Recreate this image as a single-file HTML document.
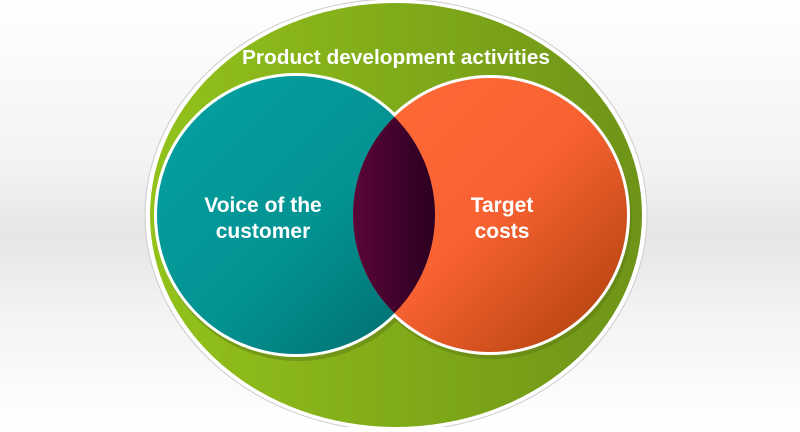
<!DOCTYPE html>
<html><head><meta charset="utf-8"><style>
html,body{margin:0;padding:0;}
body{width:800px;height:427px;overflow:hidden;background:linear-gradient(#fff 0%,#f2f2f2 40%,#e6e6e6 55%,#f4f4f4 75%,#fff 100%);}
</style></head><body>
<svg width="800" height="427" viewBox="0 0 800 427" xmlns="http://www.w3.org/2000/svg">
<defs>
<linearGradient id="g" x1="0" y1="0" x2="1" y2="0"><stop offset="0" stop-color="#93c21a"/><stop offset="1" stop-color="#6e9418"/></linearGradient>
<linearGradient id="t" x1="0" y1="0" x2="1" y2="1"><stop offset="0" stop-color="#05a2a2"/><stop offset="0.55" stop-color="#039292"/><stop offset="1" stop-color="#02686a"/></linearGradient>
<linearGradient id="o" x1="0" y1="0" x2="1" y2="1"><stop offset="0" stop-color="#ff6a38"/><stop offset="0.5" stop-color="#f86232"/><stop offset="1" stop-color="#a83e08"/></linearGradient>
<linearGradient id="p" gradientUnits="userSpaceOnUse" x1="353" y1="0" x2="437" y2="0"><stop offset="0" stop-color="#5a0638"/><stop offset="1" stop-color="#2a0020"/></linearGradient>
<clipPath id="lc"><circle cx="296" cy="215" r="139"/></clipPath>
</defs>
<ellipse cx="396" cy="215" rx="251" ry="216" fill="#fff" stroke="#ccc" stroke-width="1"/>
<ellipse cx="396" cy="215" rx="246" ry="212" fill="url(#g)"/>
<circle cx="298" cy="219" r="142" fill="#5d7c12" opacity="0.5"/>
<circle cx="492" cy="219" r="140" fill="#5d7c12" opacity="0.5"/>
<circle cx="296" cy="215" r="142" fill="#fff"/>
<circle cx="490" cy="215" r="140" fill="#fff"/>
<circle cx="296" cy="215" r="139" fill="url(#t)"/>
<circle cx="490" cy="215" r="137" fill="url(#o)"/>
<circle cx="490" cy="215" r="137" fill="url(#p)" clip-path="url(#lc)"/>
<g font-family="Liberation Sans, sans-serif" font-weight="bold" fill="#fff" text-anchor="middle">
<text x="396" y="64" font-size="20.5" textLength="308" lengthAdjust="spacingAndGlyphs">Product development activities</text>
<text x="263" y="212" font-size="21">Voice of the</text>
<text x="263" y="238" font-size="21">customer</text>
<text x="502" y="212" font-size="21">Target</text>
<text x="502" y="238" font-size="21">costs</text>
</g>
</svg>
</body></html>
